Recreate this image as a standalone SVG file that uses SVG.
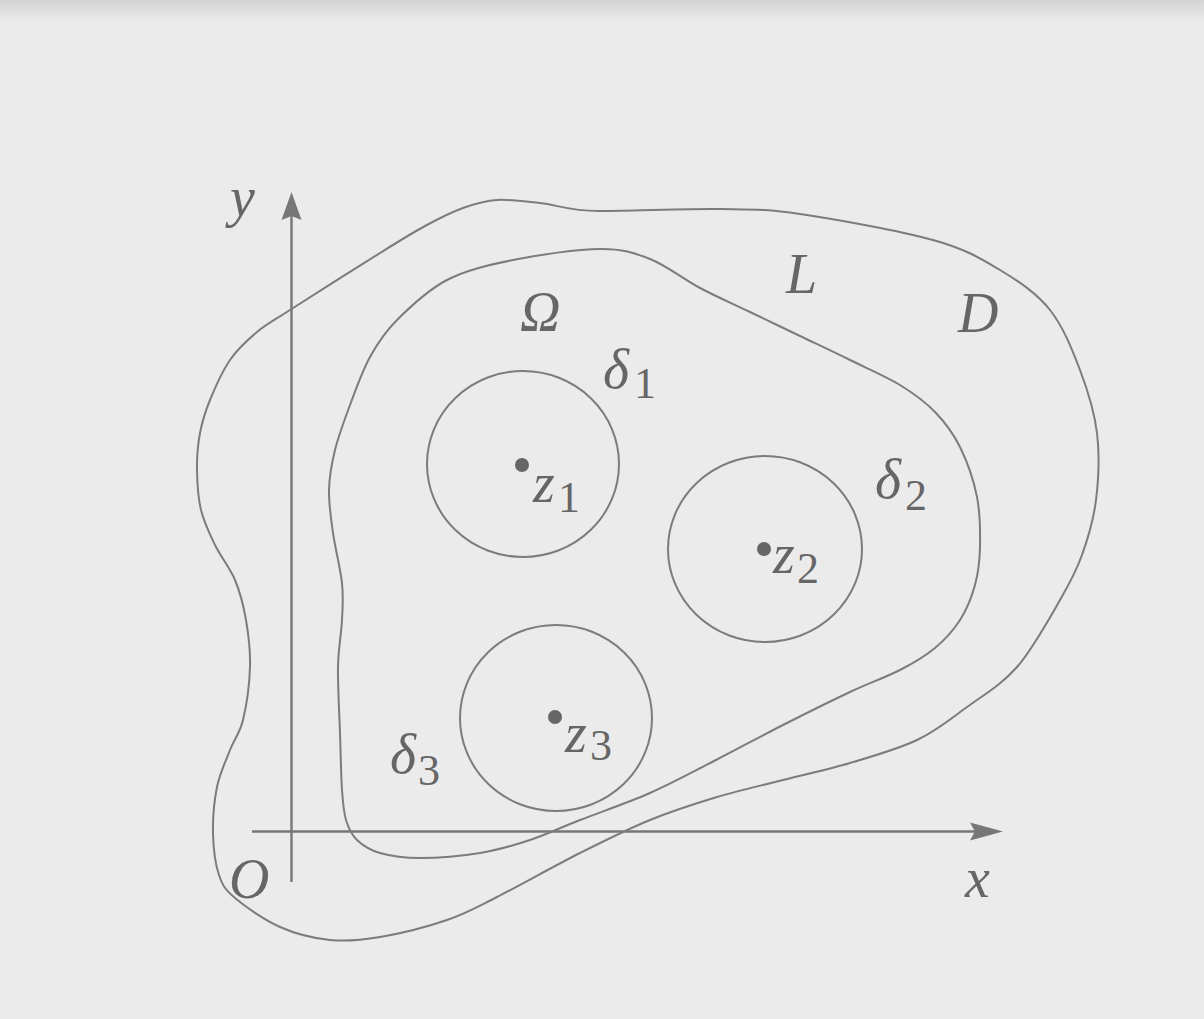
<svg xmlns="http://www.w3.org/2000/svg" width="1204" height="1019" viewBox="0 0 1204 1019">
  <defs>
    <linearGradient id="topShade" x1="0" y1="0" x2="0" y2="1">
      <stop offset="0" stop-color="#d4d4d4"/>
      <stop offset="1" stop-color="#ebebeb"/>
    </linearGradient>
    <style>
      .curve { fill: none; stroke: #7c7c7c; stroke-width: 2; }
      .axis { fill: none; stroke: #777; stroke-width: 2.4; }
      .head { fill: #777; stroke: none; }
      .dot { fill: #666; }
      .lbl { font-style: italic; font-size: 56px; fill: #666; }
      .sub { font-style: normal; font-size: 44px; }
    </style>
  </defs>
  <rect x="0" y="0" width="1204" height="1019" fill="#ebebeb"/>
  <rect x="0" y="0" width="1204" height="22" fill="url(#topShade)"/>

  <g id="connectors">
    <g id="y-axis">
      <line class="axis" x1="291.5" y1="882" x2="291.5" y2="212"/>
      <polygon class="head" points="291.5,192 301.5,220 291.5,216 281.5,220"/>
    </g>
    <g id="x-axis">
      <line class="axis" x1="252" y1="831.5" x2="985" y2="831.5"/>
      <polygon class="head" points="1003,831.5 970,840.5 975,831.5 970,822.5"/>
    </g>
  </g>

  <g id="region-D">
    <path class="curve" d="M497,200 C509.8,199.2 522.8,201.2 540,203 S570,211.3 600,211 S686.7,208.5 720,209 S764.5,208.8 800,214 S899.7,230.7 933,240 S980.5,258.3 1000,270 S1036.7,293.3 1050,310 S1072.2,349.5 1080,370 S1094.3,411.3 1097,433 S1098.5,479.7 1096,500 S1088,538.3 1082,555 S1070.8,581.3 1060,600 S1032.5,649.2 1017,667 S983.7,694.8 967,707 S936.5,730.7 917,740 S872.3,756.3 850,763 S805.2,774.3 783,780 S739.2,790.3 717,797 S672.8,810.7 650,820 S605.5,840.2 580,853 S519.2,885.8 497,897 S466.5,913.3 447,920 S399.5,933.7 380,937 S346.7,941.7 330,940 S295.8,934 280,927 S245.2,906.7 235,898 S222.7,885.8 219,875 S213.3,847.7 213,833 S214.2,800.8 217,787 S225.7,761.2 230,750 S239.7,733.8 243,720 S249.5,683.7 250,667 S248.5,634.5 246,620 S240.2,592.5 235,580 S220.7,556.7 215,545 S204,522.5 201,510 S197.2,482.8 197,470 S197.8,444.7 200,433 S205,412.2 210,400 S222.2,371.3 230,360 S247,340.3 257,332 S269.5,323.2 290,310 S357.5,267 380,253 S411.2,233.5 425,226 S451,212.3 463,208 S484.2,200.8 497,200 Z"/>
    <text class="lbl" font-family="'Liberation Serif', 'Times New Roman', 'DejaVu Serif', serif" x="958" y="332">D</text>
  </g>

  <g id="contour-L">
    <path class="curve" d="M600,249 C622.8,248.8 633.3,252.5 650,259 S683.3,279.2 700,288 S733.3,304 750,312 S783.3,328 800,336 S833.3,351.8 850,360 S885.8,376.3 900,385 S925,401.7 935,412 S953,432.8 960,447 S973.7,480.3 977,497 S980.3,532.3 980,547 S978.3,572.8 975,585 S966.7,609.5 960,620 S945,639.7 935,648 S914.2,662.7 900,670 S869.5,682.8 850,692 S805.3,713.7 783,725 S738.2,748.7 716,760 S672.7,783 650,793 S600,812.2 580,820 S546.7,834.5 530,840 S498.3,850 480,853 S436.7,858 420,858 S390.5,856 380,853 S362.7,845.5 357,840 S348.5,828.3 346,820 S343,804.5 342,790 S340.7,753.5 340,733 S337.7,685.8 338,667 S341.3,634 342,620 S343.5,597.5 342,583 S335.2,548.5 333,533 S328.7,503.8 329,490 S331.5,464.2 335,450 S344.2,420.5 350,405 S362.2,371.2 370,357 S384.2,332.8 397,320 S427.7,290 447,280 S487.5,265.2 513,260 S577.2,249.2 600,249 Z"/>
    <text class="lbl" font-family="'Liberation Serif', 'Times New Roman', 'DejaVu Serif', serif" x="786" y="293">L</text>
    <text class="lbl" font-family="'Liberation Serif', 'Times New Roman', 'DejaVu Serif', serif" x="520" y="331">Ω</text>
  </g>

  <g id="circle-delta1">
    <ellipse class="curve" cx="523" cy="464" rx="96" ry="93"/>
    <circle class="dot" cx="522" cy="465" r="7"/>
    <text class="lbl" font-family="'Liberation Serif', 'Times New Roman', 'DejaVu Serif', serif"><tspan x="603" y="388">δ</tspan><tspan class="sub" x="634" y="398">1</tspan></text>
    <text class="lbl" font-family="'Liberation Serif', 'Times New Roman', 'DejaVu Serif', serif"><tspan x="533" y="502">z</tspan><tspan class="sub" x="558" y="512">1</tspan></text>
  </g>

  <g id="circle-delta2">
    <ellipse class="curve" cx="765" cy="549" rx="97" ry="93"/>
    <circle class="dot" cx="764" cy="549" r="7"/>
    <text class="lbl" font-family="'Liberation Serif', 'Times New Roman', 'DejaVu Serif', serif"><tspan x="875" y="498">δ</tspan><tspan class="sub" x="905" y="510">2</tspan></text>
    <text class="lbl" font-family="'Liberation Serif', 'Times New Roman', 'DejaVu Serif', serif"><tspan x="773" y="573">z</tspan><tspan class="sub" x="797" y="583">2</tspan></text>
  </g>

  <g id="circle-delta3">
    <ellipse class="curve" cx="556" cy="718" rx="96" ry="93"/>
    <circle class="dot" cx="555" cy="717" r="7"/>
    <text class="lbl" font-family="'Liberation Serif', 'Times New Roman', 'DejaVu Serif', serif"><tspan x="390" y="773">δ</tspan><tspan class="sub" x="418" y="785">3</tspan></text>
    <text class="lbl" font-family="'Liberation Serif', 'Times New Roman', 'DejaVu Serif', serif"><tspan x="565" y="752">z</tspan><tspan class="sub" x="590" y="760">3</tspan></text>
  </g>

  <g id="axis-labels">
    <text class="lbl" font-family="'Liberation Serif', 'Times New Roman', 'DejaVu Serif', serif" x="230" y="216">y</text>
    <text class="lbl" font-family="'Liberation Serif', 'Times New Roman', 'DejaVu Serif', serif" x="965" y="897">x</text>
    <text class="lbl" font-family="'Liberation Serif', 'Times New Roman', 'DejaVu Serif', serif" x="229" y="898">O</text>
  </g>
</svg>
